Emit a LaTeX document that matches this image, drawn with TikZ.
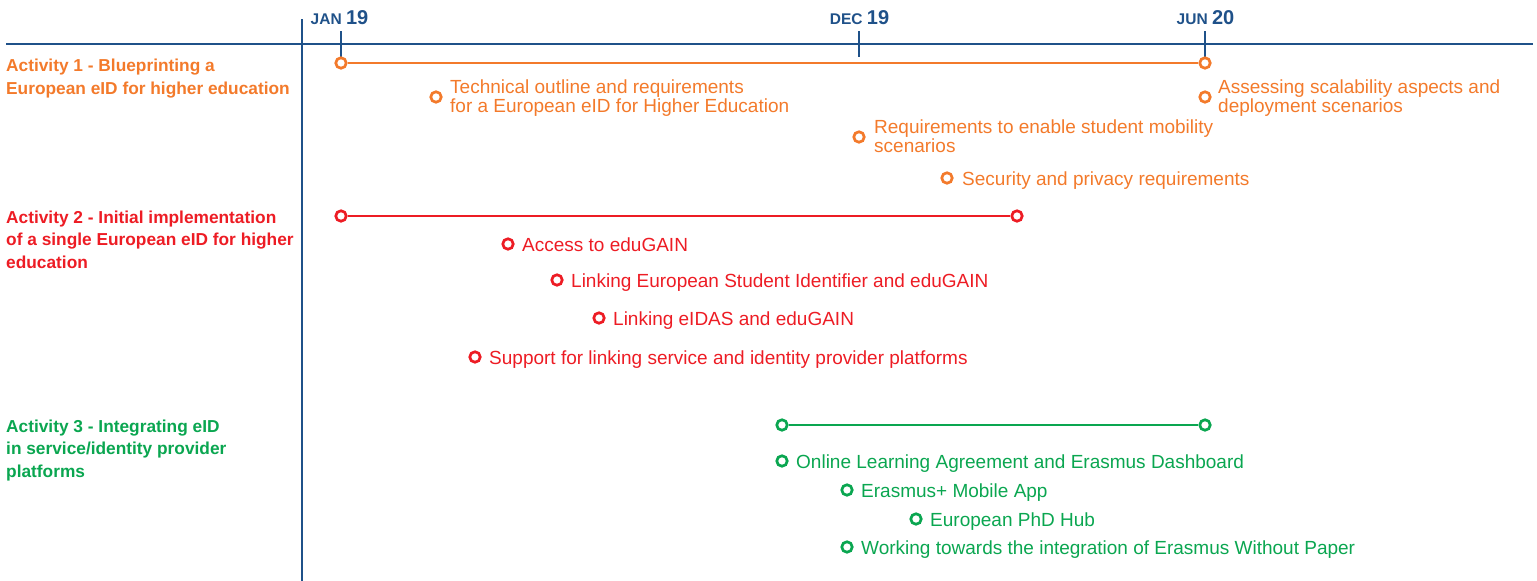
\documentclass[tikz,border=0pt]{standalone}
\usepackage{fontspec}
\setmainfont{Liberation Sans}
\definecolor{cblue}{HTML}{1F5189}
\definecolor{corange}{HTML}{F37A2B}
\definecolor{cred}{HTML}{ED1C24}
\definecolor{cgreen}{HTML}{0AA650}
\tikzset{
  axis/.style={draw=cblue, line width=2.8pt},
  tick/.style={draw=cblue, line width=2.8pt},
  datelbl/.style={text=cblue, anchor=base, inner sep=0pt, font=\bfseries},
  dot/.style={circle, draw=#1, fill=white, line width=2.7pt, minimum size=10.5pt, inner sep=0pt},
  span/.style={draw=#1, line width=2.8pt},
  itm/.style={text=#1, anchor=base west, inner sep=0pt, align=left, font=\fontsize{19}{16}\selectfont},
  act/.style={text=#1, anchor=base west, inner sep=0pt, align=left, font=\fontsize{17.3}{22.5}\selectfont\bfseries},
}
\begin{document}
\begin{tikzpicture}[x=1pt,y=-1pt]
\useasboundingbox (0,0) rectangle (1537,581);
% axes
\coordinate (hl) at (6,44);
\coordinate (hr) at (1533,44);
\coordinate (vt) at (302,19);
\coordinate (vb) at (302,581);
\draw[axis] (hl) -- (hr);
\draw[axis] (vt) -- (vb);
% ticks
\coordinate (t1a) at (341,31); \coordinate (t1b) at (341,57);
\coordinate (t2a) at (859,31); \coordinate (t2b) at (859,57);
\coordinate (t3a) at (1205,31); \coordinate (t3b) at (1205,57);
\draw[tick] (t1a) -- (t1b);
\draw[tick] (t2a) -- (t2b);
\draw[tick] (t3a) -- (t3b);
\node[datelbl] (d1) at (339.5,24) {\fontsize{15.5}{15.5}\selectfont JAN \fontsize{20}{20}\selectfont 19};
\node[datelbl] (d2) at (859.5,24) {\fontsize{15.5}{15.5}\selectfont DEC \fontsize{20}{20}\selectfont 19};
\node[datelbl] (d3) at (1205.5,24) {\fontsize{15.5}{15.5}\selectfont JUN \fontsize{20}{20}\selectfont 20};
% activity labels
\node[act=corange] (a1) at (6,94) {Activity 1 - Blueprinting a\\European eID for higher education};
\node[act=cred] (a2) at (6,268) {Activity 2 - Initial implementation\\of a single European eID for higher\\education};
\node[act=cgreen] (a3) at (6,477) {Activity 3 - Integrating eID\\in service/identity provider\\platforms};
% Activity 1
\node[dot=corange] (o1s) at (341,63) {};
\node[dot=corange] (o1e) at (1205,63) {};
\draw[span=corange] (o1s) -- (o1e);
\node[dot=corange] (o1) at (436,97) {};
\node[itm=corange] (o1t) at (450,112) {Technical outline and requirements\\for a European eID for Higher Education};
\node[dot=corange] (o2) at (1205,97) {};
\node[itm=corange] (o2t) at (1218,112) {Assessing scalability aspects and\\deployment scenarios};
\node[dot=corange] (o3) at (859,137) {};
\node[itm=corange] (o3t) at (874,152) {Requirements to enable student mobility\\scenarios};
\node[dot=corange] (o4) at (947,178) {};
\node[itm=corange] (o4t) at (962,185) {Security and privacy requirements};
% Activity 2
\node[dot=cred] (r1s) at (341,216) {};
\node[dot=cred] (r1e) at (1017,216) {};
\draw[span=cred] (r1s) -- (r1e);
\node[dot=cred] (r1) at (508,244) {};
\node[itm=cred] (r1t) at (522,251) {Access to eduGAIN};
\node[dot=cred] (r2) at (557,280) {};
\node[itm=cred] (r2t) at (571,287) {Linking European Student Identifier and eduGAIN};
\node[dot=cred] (r3) at (599,318) {};
\node[itm=cred] (r3t) at (613,325) {Linking eIDAS and eduGAIN};
\node[dot=cred] (r4) at (475,357) {};
\node[itm=cred] (r4t) at (489,364) {Support for linking service and identity provider platforms};
% Activity 3
\node[dot=cgreen] (g1s) at (782,425) {};
\node[dot=cgreen] (g1e) at (1205,425) {};
\draw[span=cgreen] (g1s) -- (g1e);
\node[dot=cgreen] (g1) at (782,461) {};
\node[itm=cgreen] (g1t) at (796,468) {Online Learning Agreement and Erasmus Dashboard};
\node[dot=cgreen] (g2) at (847,490) {};
\node[itm=cgreen] (g2t) at (861,497) {Erasmus+ Mobile App};
\node[dot=cgreen] (g3) at (916,519) {};
\node[itm=cgreen] (g3t) at (930,526) {European PhD Hub};
\node[dot=cgreen] (g4) at (847,547) {};
\node[itm=cgreen] (g4t) at (861,554) {Working towards the integration of Erasmus Without Paper};
\end{tikzpicture}
\end{document}
